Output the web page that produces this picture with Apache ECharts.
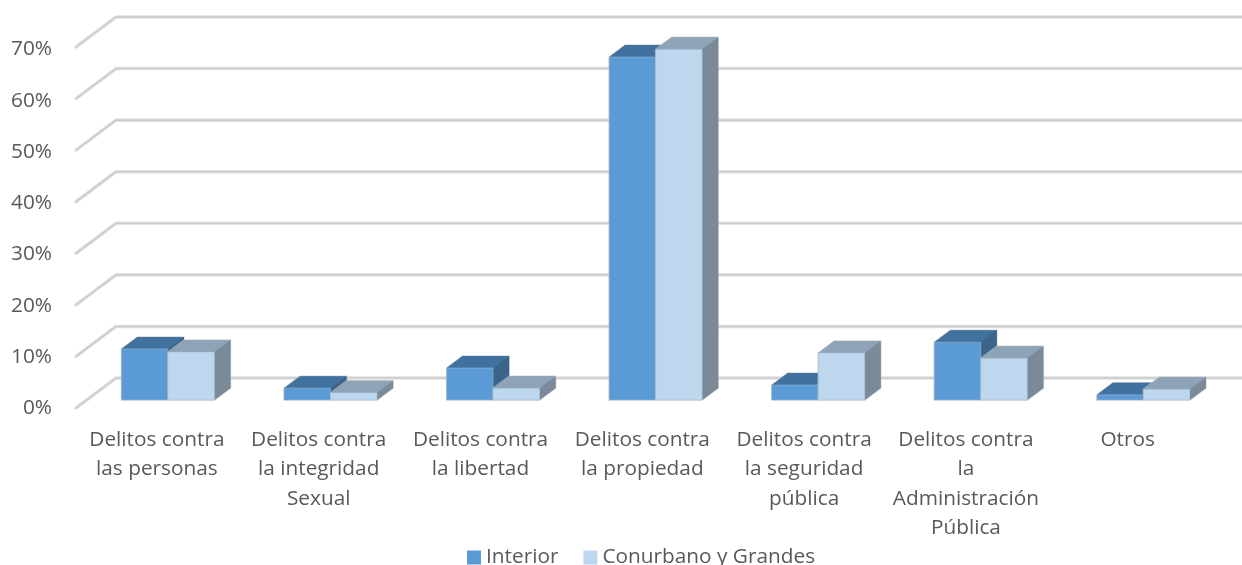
<!DOCTYPE html>
<html><head><meta charset="utf-8">
<style>html,body{margin:0;padding:0;background:#fff}#c{width:1242px;height:565px}</style>
<script src="https://cdn.jsdelivr.net/npm/echarts@6/dist/echarts.min.js"></script>
</head><body><div id="c"></div>
<script>
var categories = ["Delitos contra\nlas personas","Delitos contra\nla integridad\nSexual","Delitos contra\nla libertad","Delitos contra\nla propiedad","Delitos contra\nla seguridad\npública","Delitos contra\nla\nAdministración\nPública","Otros"];
var interior = [9.9,2.3,6.2,66.5,2.9,11.2,1.0];
var conurbano = [9.3,1.4,2.3,68.0,9.1,8.1,2.1];
var ticks = [0,10,20,30,40,50,60,70];

var FONT = '"Open Sans", sans-serif', TXT = '#595959', FS = 20.8;
var WALL = {dx:40, dy:-30};      // wall depth
var PLANE = {dx:10.7, dy:-8};    // plane of the bar fronts
var DEPTH = {dx:16, dy:-12};     // bar depth
var BAR = 0.286;

function barRenderer(side, front, top, right){
  return function(params, api){
    var p = api.coord([api.value(0), api.value(1)]);
    var b = api.coord([api.value(0), 0]);
    var w = api.size([1,0])[0]*BAR;
    var x0 = p[0]+PLANE.dx+(side<0?-w:0), x1 = x0+w;
    var yt = p[1]+PLANE.dy, yb = b[1]+PLANE.dy;
    var dx = DEPTH.dx, dy = DEPTH.dy;
    return {type:'group', children:[
      {type:'polygon', shape:{points:[[x0,yb],[x0,yt],[x0+dx,yt+dy],[x1+dx,yt+dy],[x1+dx,yb+dy],[x1,yb]]},
       style:{fill:right, stroke:'rgba(190,190,190,0.6)', lineWidth:1.5}},
      {type:'polygon', shape:{points:[[x1,yt],[x1+dx,yt+dy],[x1+dx,yb+dy],[x1,yb]]}, style:{fill:right}},
      {type:'polygon', shape:{points:[[x0,yt],[x0+dx,yt+dy],[x1+dx,yt+dy],[x1,yt]]}, style:{fill:top}},
      {type:'rect', shape:{x:x0,y:yt,width:w,height:yb-yt}, style:{fill:front, stroke:'rgba(170,190,210,0.5)', lineWidth:1}}
    ]};
  };
}
function gridRenderer(params, api){
  var y = api.coord([0, api.value(1)])[1], c = params.coordSys;
  var pts = [[c.x,y],[c.x+WALL.dx,y+WALL.dy],[c.x+c.width+WALL.dx,y+WALL.dy]];
  return {type:'group', children:[
    {type:'polyline', shape:{points:pts}, style:{fill:null, stroke:'#e2e2e2', lineWidth:3.6, lineCap:'round', lineJoin:'round'}},
    {type:'polyline', shape:{points:pts}, style:{fill:null, stroke:'#cbcbcb', lineWidth:1.5, lineCap:'round', lineJoin:'round'}}
  ]};
}
function pairs(a){ return a.map(function(v,i){ return [i,v]; }); }

var chart = echarts.init(document.getElementById('c'), null, {renderer:'canvas'});
chart.setOption({
  animation:false,
  backgroundColor:'#fff',
  grid:[
    {left:76, width:1138, top:47, height:361},
    {left:76, width:1132.6, top:49.5, height:358.5}
  ],
  xAxis:[
    {type:'category', gridIndex:0, data:categories, show:false},
    {type:'category', gridIndex:1, data:categories, axisLine:{show:false}, axisTick:{show:false},
     axisLabel:{interval:0, margin:17, color:TXT, fontFamily:FONT, fontSize:FS, lineHeight:29.5, align:'center', verticalAlign:'top', hideOverlap:false}}
  ],
  yAxis:[
    {type:'value', gridIndex:0, min:0, max:70, interval:10, show:false},
    {type:'value', gridIndex:1, min:0, max:70, interval:10, axisLine:{show:false}, axisTick:{show:false}, splitLine:{show:false},
     axisLabel:{margin:24, color:TXT, fontFamily:FONT, fontSize:FS, formatter:'{value}%'}}
  ],
  legend:{
    data:['Interior','Conurbano y Grandes'], left:467, top:547, icon:'rect', itemWidth:14, itemHeight:14, itemGap:25,
    padding:0, selectedMode:false, textStyle:{color:TXT, fontFamily:FONT, fontSize:FS}
  },
  series:[
    {type:'custom', name:'grid', data:ticks.map(function(t){return [0,t];}), encode:{x:0,y:1}, renderItem:gridRenderer, silent:true, z:1},
    {type:'custom', name:'Interior', data:pairs(interior), encode:{x:0,y:1}, itemStyle:{color:'#5B9BD5'},
     renderItem:barRenderer(-1,'#5B9BD5','#41729F','#3A6489'), z:2},
    {type:'custom', name:'Conurbano y Grandes', data:pairs(conurbano), encode:{x:0,y:1}, itemStyle:{color:'#BDD7EE'},
     renderItem:barRenderer(1,'#BDD7EE','#8EA3B7','#7A8A99'), z:3}
  ]
});
</script></body></html>
